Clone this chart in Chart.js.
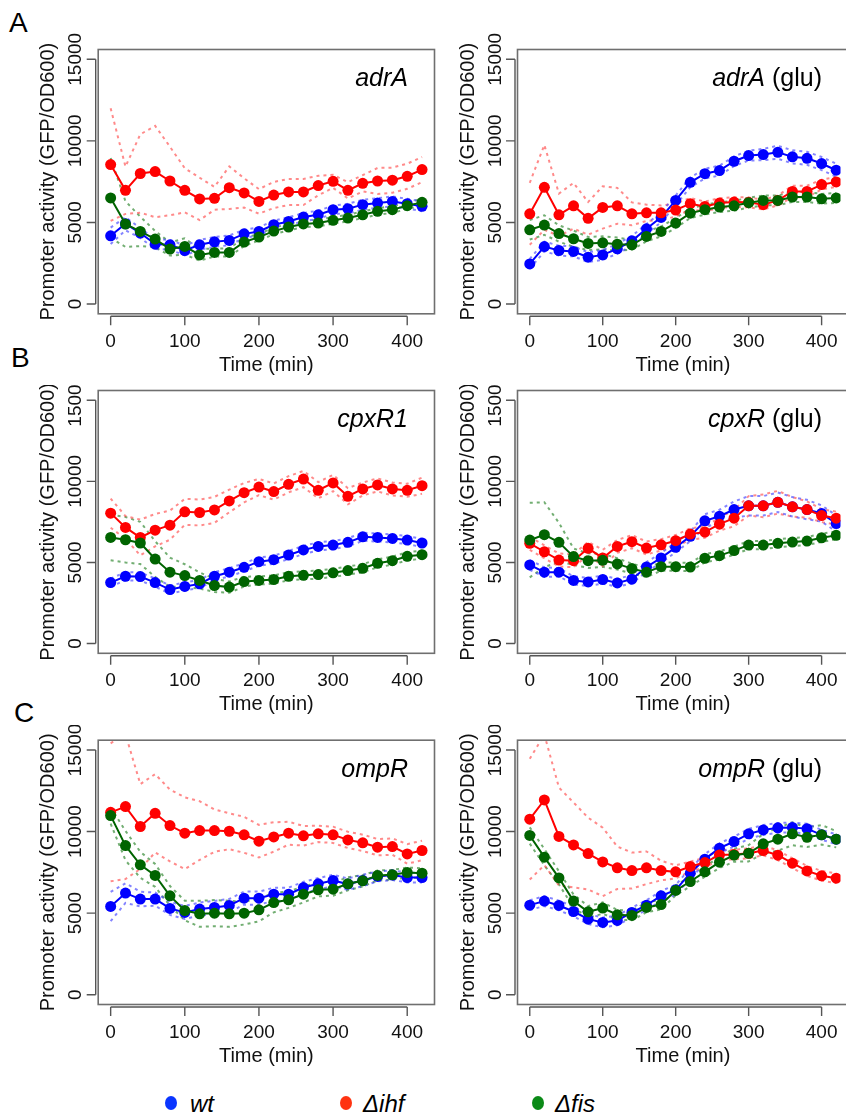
<!DOCTYPE html>
<html>
<head>
<meta charset="utf-8">
<title>Promoter activity</title>
<script src="https://cdn.jsdelivr.net/npm/chart.js@4.4.1/dist/chart.umd.min.js"></script>
<style>
  html, body { margin: 0; padding: 0; background: #fff; }
  body { position: relative; width: 846px; height: 1117px; overflow: hidden; font-family: "Liberation Sans", Arial, sans-serif; }
  canvas { position: absolute; }
  .letter { position: absolute; font-size: 28px; line-height: 28px; color: #000; }
  .leg-dot { position: absolute; width: 12px; height: 14px; border-radius: 50%; }
  .leg-txt { position: absolute; font-size: 24px; line-height: 24px; font-style: italic; color: #000; }
</style>
</head>
<body>
<div class="letter" style="left:9px;top:9px">A</div>
<div class="letter" style="left:11px;top:344px">B</div>
<div class="letter" style="left:14px;top:699px">C</div>

<canvas id="adrA" width="440" height="379" style="left:0;top:0"></canvas>
<canvas id="adrAglu" width="426" height="379" style="left:420px;top:0"></canvas>
<canvas id="cpxR1" width="440" height="334" style="left:0;top:385px"></canvas>
<canvas id="cpxRglu" width="426" height="334" style="left:420px;top:385px"></canvas>
<canvas id="ompR" width="440" height="345" style="left:0;top:725px"></canvas>
<canvas id="ompRglu" width="426" height="345" style="left:420px;top:725px"></canvas>

<div id="legend"></div>

<script>
// time points (min) and axis ticks
const times = [0, 20, 40, 60, 80, 100, 120, 140, 160, 180, 200, 220, 240, 260, 280, 300, 320, 340, 360, 380, 400, 420];
const xTicks = [0, 100, 200, 300, 400];
const yTicks = [0, 5000, 10000, 15000];
const seriesNames = ['wt', 'Δihf', 'Δfis'];

// A left: adrA
const adrA_wt = [4180, 4920, 4350, 3670, 3630, 3280, 3630, 3810, 3900, 4300, 4450, 4860, 5060, 5330, 5470, 5780, 5840, 6090, 6190, 6290, 6150, 5990];
const adrA_wt_sd = [500, 400, 300, 300, 300, 300, 300, 300, 300, 250, 250, 250, 250, 250, 250, 250, 300, 300, 300, 300, 300, 300];
const adrA_ihf = [8550, 6970, 8000, 8120, 7540, 6970, 6440, 6480, 7130, 6810, 6290, 6680, 6870, 6870, 7260, 7520, 6970, 7400, 7540, 7590, 7830, 8240];
const adrA_ihf_sd = [3450, 1450, 2400, 2800, 2100, 1350, 1300, 700, 1300, 900, 750, 800, 800, 800, 600, 400, 500, 500, 800, 770, 770, 770];
const adrA_fis = [6500, 4900, 4450, 3980, 3370, 3530, 3010, 3160, 3160, 3800, 4100, 4470, 4720, 4910, 4960, 5130, 5270, 5470, 5680, 5780, 6030, 6230];
const adrA_fis_sd = [2450, 1400, 900, 500, 400, 500, 350, 250, 250, 250, 200, 200, 200, 200, 200, 200, 200, 200, 200, 200, 200, 200];

// A right: adrA (glu)
const adrAglu_wt = [2460, 3520, 3280, 3220, 2870, 3010, 3380, 3870, 4610, 5310, 6350, 7460, 7990, 8180, 8750, 9100, 9160, 9300, 9020, 8930, 8610, 8200];
const adrAglu_wt_sd = [300, 300, 300, 300, 300, 300, 300, 300, 300, 300, 300, 300, 300, 300, 300, 300, 350, 400, 400, 400, 400, 400];
const adrAglu_ihf = [5530, 7150, 5470, 6020, 5250, 5920, 6020, 5530, 5590, 5590, 5760, 6150, 5980, 6190, 6250, 6230, 6090, 6350, 6900, 6900, 7320, 7480];
const adrAglu_ihf_sd = [1900, 2600, 1300, 1400, 1000, 1300, 1100, 700, 500, 450, 400, 350, 300, 300, 300, 300, 300, 300, 350, 350, 300, 300];
const adrAglu_fis = [4550, 4840, 4320, 4000, 3710, 3750, 3670, 3630, 4140, 4450, 4960, 5570, 5780, 5940, 6020, 6210, 6350, 6350, 6560, 6560, 6450, 6500];
const adrAglu_fis_sd = [600, 600, 500, 500, 400, 400, 400, 300, 300, 300, 300, 300, 300, 300, 300, 300, 300, 300, 300, 300, 300, 300];

// B left: cpxR1
const cpxR1_wt = [3760, 4150, 4130, 3760, 3330, 3520, 3680, 4150, 4400, 4700, 5050, 5170, 5460, 5770, 5990, 6070, 6240, 6580, 6540, 6480, 6380, 6200];
const cpxR1_wt_sd = [250, 250, 250, 250, 250, 250, 250, 250, 250, 250, 250, 250, 250, 250, 250, 250, 250, 250, 250, 250, 250, 250];
const cpxR1_ihf = [8040, 7160, 6540, 6990, 7300, 8120, 8080, 8240, 8790, 9300, 9650, 9370, 9820, 10140, 9450, 9900, 9080, 9530, 9780, 9530, 9450, 9730];
const cpxR1_ihf_sd = [900, 700, 1100, 1000, 900, 800, 800, 800, 700, 600, 500, 500, 500, 500, 500, 500, 500, 400, 400, 400, 400, 500];
const cpxR1_fis = [6540, 6400, 6200, 5210, 4400, 4190, 3890, 3580, 3480, 3820, 3890, 3950, 4150, 4210, 4250, 4360, 4500, 4640, 4950, 5110, 5380, 5480];
const cpxR1_fis_sd = [1400, 1400, 1300, 1100, 900, 700, 500, 400, 350, 300, 250, 250, 250, 250, 250, 250, 250, 250, 250, 250, 250, 250];

// B right: cpxR (glu)
const cpxRglu_wt = [4850, 4400, 4400, 3890, 3800, 3950, 3740, 3970, 4720, 5280, 5930, 6610, 7570, 7850, 8260, 8490, 8490, 8710, 8430, 8260, 8020, 7400];
const cpxRglu_wt_sd = [300, 300, 250, 250, 250, 250, 250, 250, 300, 300, 300, 300, 400, 400, 500, 600, 600, 600, 600, 600, 500, 500];
const cpxRglu_ihf = [6180, 5660, 5150, 5110, 5870, 5280, 5990, 6280, 5890, 6090, 6340, 6750, 6870, 7360, 7730, 8490, 8490, 8710, 8430, 8260, 7890, 7730];
const cpxRglu_ihf_sd = [400, 400, 400, 400, 400, 500, 400, 400, 400, 350, 350, 350, 350, 400, 500, 600, 700, 700, 600, 500, 400, 400];
const cpxRglu_fis = [6380, 6710, 6240, 5360, 5110, 5130, 4910, 4620, 4400, 4740, 4740, 4720, 5260, 5420, 5730, 6070, 6070, 6180, 6260, 6320, 6520, 6670];
const cpxRglu_fis_sd = [2300, 2000, 1200, 500, 450, 400, 350, 300, 300, 250, 250, 250, 250, 250, 250, 250, 250, 250, 250, 250, 250, 250];

// C left: ompR
const ompR_wt = [5410, 6230, 5860, 5860, 5290, 5040, 5250, 5350, 5470, 5920, 5920, 6160, 6160, 6570, 6800, 7000, 6780, 7000, 7250, 7330, 7180, 7180];
const ompR_wt_sd = [900, 600, 450, 400, 400, 400, 400, 400, 400, 400, 400, 400, 400, 350, 350, 350, 350, 350, 300, 300, 300, 300];
const ompR_ihf = [11180, 11530, 10310, 11120, 10370, 9900, 10060, 10060, 10020, 9800, 9410, 9670, 9900, 9740, 9860, 9800, 9490, 9310, 9040, 9080, 8630, 8840];
const ompR_ihf_sd = [4230, 4440, 2600, 2400, 2200, 2200, 1800, 1300, 1100, 1100, 1000, 900, 700, 600, 500, 500, 500, 500, 500, 500, 600, 600];
const ompR_fis = [10980, 9140, 7960, 7310, 6060, 5160, 4960, 5000, 4960, 5000, 5200, 5650, 5820, 6160, 6430, 6470, 6800, 6980, 7310, 7350, 7490, 7450];
const ompR_fis_sd = [500, 900, 800, 700, 600, 600, 800, 800, 800, 700, 700, 600, 500, 500, 400, 400, 400, 350, 300, 300, 300, 300];

// C right: ompR (glu)
const ompRglu_wt = [5490, 5740, 5470, 5100, 4630, 4430, 4550, 5040, 5490, 6060, 6430, 7450, 8310, 8980, 9390, 9860, 10100, 10230, 10250, 10180, 9800, 9530];
const ompRglu_wt_sd = [300, 300, 300, 300, 300, 300, 300, 300, 300, 300, 300, 300, 300, 300, 300, 300, 300, 300, 300, 300, 300, 300];
const ompRglu_ihf = [10760, 11940, 9700, 9180, 8650, 8140, 7780, 7610, 7780, 7610, 7530, 7860, 8100, 8570, 8590, 8670, 8840, 8550, 8060, 7590, 7290, 7140];
const ompRglu_ihf_sd = [3700, 4000, 3000, 2600, 2200, 2100, 1300, 1100, 1000, 600, 400, 300, 300, 300, 300, 300, 300, 300, 300, 300, 300, 300];
const ompRglu_fis = [9760, 8430, 7160, 5740, 5080, 5310, 4900, 4860, 5350, 5530, 6390, 6940, 7530, 8120, 8550, 8670, 9250, 9530, 9860, 9650, 9800, 9530];
const ompRglu_fis_sd = [500, 500, 400, 400, 350, 350, 300, 300, 300, 300, 300, 300, 300, 350, 400, 500, 600, 700, 700, 600, 600, 500];

const FONT = '"Liberation Sans", Arial, sans-serif';
const xLim = [-16.8, 436.8];   // R-style 4% padding around 0..420
const yLim = [-600, 15600];
const lineCols = ['#0000ff', '#ff0000', '#006400'];
const bandCols = ['rgba(50,50,255,0.6)', 'rgba(255,60,60,0.6)', 'rgba(20,120,20,0.6)'];
const legendCols = ['#0a35ff', '#ff3311', '#0b8a17'];

// draws box, axes, ticks, titles like base R
const rAxes = {
  id: 'rAxes',
  afterDraw(chart, args, opts) {
    const ctx = chart.ctx, a = chart.chartArea;
    const xs = chart.scales.x, ys = chart.scales.y;
    const boxRight = xs.getPixelForValue(xLim[1]);
    ctx.save();
    ctx.strokeStyle = '#6f6f6f';
    ctx.lineWidth = 1.6;
    ctx.strokeRect(a.left, a.top, boxRight - a.left, a.bottom - a.top);

    ctx.strokeStyle = '#555';
    ctx.lineWidth = 1.4;
    ctx.beginPath();
    const ax = a.left - 2.5;
    ctx.moveTo(ax, ys.getPixelForValue(yTicks[0]));
    ctx.lineTo(ax, ys.getPixelForValue(yTicks[yTicks.length - 1]));
    yTicks.forEach(v => {
      const y = ys.getPixelForValue(v);
      ctx.moveTo(ax, y);
      ctx.lineTo(ax - 9, y);
    });
    const ay = a.bottom + 2.5;
    ctx.moveTo(xs.getPixelForValue(xTicks[0]), ay);
    ctx.lineTo(xs.getPixelForValue(xTicks[xTicks.length - 1]), ay);
    xTicks.forEach(v => {
      const x = xs.getPixelForValue(v);
      ctx.moveTo(x, ay);
      ctx.lineTo(x, ay + 9);
    });
    ctx.stroke();

    ctx.fillStyle = '#111';
    ctx.textAlign = 'center';
    ctx.textBaseline = 'alphabetic';
    ctx.font = '19px ' + FONT;
    xTicks.forEach(v => ctx.fillText(String(v), xs.getPixelForValue(v), a.bottom + 33));
    yTicks.forEach(v => {
      ctx.save();
      ctx.translate(a.left - 17, ys.getPixelForValue(v));
      ctx.rotate(-Math.PI / 2);
      ctx.fillText(String(v), 0, 0);
      ctx.restore();
    });

    ctx.font = '20px ' + FONT;
    ctx.fillText('Time (min)', xs.getPixelForValue((xLim[0] + xLim[1]) / 2), a.bottom + 57);
    ctx.save();
    ctx.translate(a.left - 44, (a.top + a.bottom) / 2);
    ctx.rotate(-Math.PI / 2);
    ctx.fillText('Promoter activity (GFP/OD600)', 0, 0);
    ctx.restore();

    // panel title: italic gene + optional " (glu)"
    ctx.fillStyle = '#000';
    ctx.textAlign = 'right';
    let rx = boxRight - 26.5;
    const by = a.top + 36.5;
    if (opts.suffix) {
      ctx.font = '25px ' + FONT;
      ctx.fillText(opts.suffix, rx, by);
      rx -= ctx.measureText(opts.suffix).width;
    }
    ctx.font = 'italic 25px ' + FONT;
    ctx.fillText(opts.gene, rx, by);
    ctx.restore();
  }
};

function pts(vals, sd, sign) {
  return vals.map((v, i) => ({ x: times[i], y: v + (sd ? sign * sd[i] : 0) }));
}

function makePanel(id, gene, suffix, means, sds, right, padTop, padBottom) {
  const datasets = [];
  means.forEach((m, s) => {
    [1, -1].forEach(sign => datasets.push({
      data: pts(m, sds[s], sign),
      borderColor: bandCols[s],
      borderDash: [3, 4],
      borderWidth: 2,
      pointRadius: 0,
      fill: false,
      order: 10
    }));
    datasets.push({
      label: seriesNames[s],
      data: pts(m),
      borderColor: lineCols[s],
      backgroundColor: lineCols[s],
      pointBackgroundColor: lineCols[s],
      borderWidth: 2,
      pointRadius: 5.5,
      pointBorderWidth: 0,
      fill: false,
      order: 3 - s
    });
  });
  new Chart(document.getElementById(id), {
    type: 'line',
    data: { datasets },
    options: {
      responsive: false,
      animation: false,
      events: [],
      layout: { padding: { left: right ? 97.5 : 98.2, right: right ? 0 : 5.2, top: padTop, bottom: padBottom } },
      plugins: {
        legend: { display: false },
        tooltip: { enabled: false },
        rAxes: { gene, suffix }
      },
      scales: {
        x: { type: 'linear', min: xLim[0], max: right ? 425.9 : xLim[1], display: false },
        y: { type: 'linear', min: yLim[0], max: yLim[1], display: false }
      }
    },
    plugins: [rAxes]
  });
}

makePanel('adrA', 'adrA', '', [adrA_wt, adrA_ihf, adrA_fis], [adrA_wt_sd, adrA_ihf_sd, adrA_fis_sd], false, 49.5, 65.2);
makePanel('adrAglu', 'adrA', ' (glu)', [adrAglu_wt, adrAglu_ihf, adrAglu_fis], [adrAglu_wt_sd, adrAglu_ihf_sd, adrAglu_fis_sd], true, 49.5, 65.2);
makePanel('cpxR1', 'cpxR1', '', [cpxR1_wt, cpxR1_ihf, cpxR1_fis], [cpxR1_wt_sd, cpxR1_ihf_sd, cpxR1_fis_sd], false, 4.5, 65.7);
makePanel('cpxRglu', 'cpxR', ' (glu)', [cpxRglu_wt, cpxRglu_ihf, cpxRglu_fis], [cpxRglu_wt_sd, cpxRglu_ihf_sd, cpxRglu_fis_sd], true, 4.5, 65.7);
makePanel('ompR', 'ompR', '', [ompR_wt, ompR_ihf, ompR_fis], [ompR_wt_sd, ompR_ihf_sd, ompR_fis_sd], false, 15.2, 65.5);
makePanel('ompRglu', 'ompR', ' (glu)', [ompRglu_wt, ompRglu_ihf, ompRglu_fis], [ompRglu_wt_sd, ompRglu_ihf_sd, ompRglu_fis_sd], true, 15.2, 65.5);

// legend row at the bottom
const legend = document.getElementById('legend');
const legDotX = [165, 340, 532];
const legTxtX = [190, 363, 555];
seriesNames.forEach((name, i) => {
  const d = document.createElement('div');
  d.className = 'leg-dot';
  d.style.left = legDotX[i] + 'px';
  d.style.top = '1096px';
  d.style.background = legendCols[i];
  legend.appendChild(d);
  const t = document.createElement('div');
  t.className = 'leg-txt';
  t.style.left = legTxtX[i] + 'px';
  t.style.top = '1092px';
  t.textContent = name;
  legend.appendChild(t);
});
</script>
</body>
</html>
